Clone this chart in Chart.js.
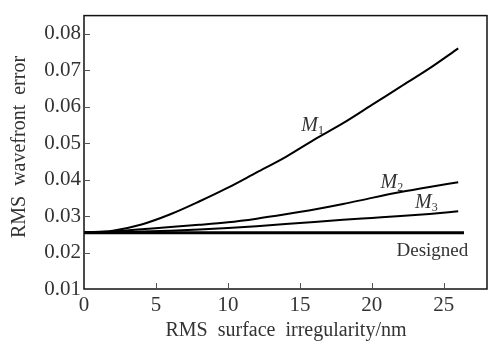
<!DOCTYPE html>
<html>
<head>
<meta charset="utf-8">
<script src="https://cdn.jsdelivr.net/npm/chart.js@4.4.1/dist/chart.umd.min.js"></script>
<style>
  html, body { margin: 0; padding: 0; background: #fff; }
  #wrap { width: 493px; height: 342px; }
</style>
</head>
<body>
<div id="wrap"><canvas id="rmsChart"></canvas></div>
<script>
// surface irregularity (nm)
var xs = [0, 2, 4, 6, 8, 10, 12, 14, 16, 18, 20, 22, 24, 26];
var m1 = [0.0255, 0.0260, 0.0277, 0.0305, 0.0340, 0.0378, 0.0420, 0.0462, 0.0510, 0.0555, 0.0605, 0.0655, 0.0705, 0.0760];
var m2 = [0.0255, 0.0258, 0.0264, 0.0270, 0.0276, 0.0283, 0.0293, 0.0305, 0.0318, 0.0333, 0.0350, 0.0366, 0.0380, 0.0393];
var m3 = [0.0255, 0.0256, 0.0258, 0.0260, 0.0263, 0.0267, 0.0272, 0.0278, 0.0284, 0.0290, 0.0295, 0.0300, 0.0306, 0.0313];
var designedX = [0, 26.4];
var designed = [0.0254, 0.0254];

var xTicks = [0, 5, 10, 15, 20, 25];
var yTicks = [0.01, 0.02, 0.03, 0.04, 0.05, 0.06, 0.07, 0.08];

// curve labels, anchored in data units (baseline)
var curveLabels = [
    { main: 'M', sub: '1', x: 15.1, y: 0.0534 },
    { main: 'M', sub: '2', x: 20.6, y: 0.0377 },
    { main: 'M', sub: '3', x: 23.0, y: 0.0322 }
];

function pts(xv, yv) {
    return xv.map(function (x, i) { return { x: x, y: yv[i] }; });
}

var serif = '"Liberation Serif", "DejaVu Serif", serif';

var frame = {
    id: 'frame',
    afterDraw: function (chart) {
        var c = chart.ctx, a = chart.chartArea;
        var sx = chart.scales.x, sy = chart.scales.y;
        c.save();
        c.strokeStyle = '#111';
        c.lineWidth = 1.5;
        c.strokeRect(a.left, a.top, a.right - a.left, a.bottom - a.top);

        // inward ticks
        c.lineWidth = 1;
        c.strokeStyle = '#555';
        xTicks.forEach(function (v) {
            if (v === 0) return;
            var px = Math.round(sx.getPixelForValue(v)) + 0.5;
            c.beginPath(); c.moveTo(px, a.bottom); c.lineTo(px, a.bottom - 6); c.stroke();
        });
        yTicks.forEach(function (v) {
            if (v === 0.01) return;
            var py = Math.round(sy.getPixelForValue(v)) + 0.5;
            c.beginPath(); c.moveTo(a.left, py); c.lineTo(a.left + 6, py); c.stroke();
        });

        // curve labels
        c.fillStyle = '#333';
        c.textBaseline = 'alphabetic';
        curveLabels.forEach(function (l) {
            var px = sx.getPixelForValue(l.x), py = sy.getPixelForValue(l.y);
            c.font = 'italic 20px ' + serif;
            c.textAlign = 'left';
            c.fillText(l.main, px, py);
            var w = c.measureText(l.main).width;
            c.font = '12px ' + serif;
            c.fillText(l.sub, px + w, py + 3);
        });
        c.font = '19px ' + serif;
        c.textAlign = 'right';
        c.fillText('Designed', sx.getPixelForValue(26.7), sy.getPixelForValue(0.0191));

        // axis titles
        c.font = '20px ' + serif;
        c.textAlign = 'center';
        c.textBaseline = 'middle';
        c.fillText('RMS  surface  irregularity/nm', 286, 331);
        c.translate(20, 147);
        c.rotate(-Math.PI / 2);
        c.fillText('RMS  wavefront  error', 0, 0);
        c.restore();
    }
};

var ctx = document.getElementById('rmsChart').getContext('2d');
var myChart = new Chart(ctx, {
    type: 'line',
    data: {
        datasets: [{
            label: 'M1',
            data: pts(xs, m1),
            borderColor: '#000',
            borderWidth: 2,
            cubicInterpolationMode: 'monotone'
        }, {
            label: 'M2',
            data: pts(xs, m2),
            borderColor: '#000',
            borderWidth: 2,
            cubicInterpolationMode: 'monotone'
        }, {
            label: 'M3',
            data: pts(xs, m3),
            borderColor: '#000',
            borderWidth: 2,
            cubicInterpolationMode: 'monotone'
        }, {
            label: 'Designed',
            data: pts(designedX, designed),
            borderColor: '#000',
            borderWidth: 3
        }]
    },
    options: {
        responsive: true,
        maintainAspectRatio: false,
        animation: false,
        layout: { padding: { top: 8, right: 6, left: 0, bottom: 0 } },
        elements: { point: { radius: 0 } },
        plugins: {
            legend: { display: false },
            tooltip: { enabled: false }
        },
        scales: {
            x: {
                type: 'linear',
                min: 0,
                max: 28,
                afterBuildTicks: function (s) { s.ticks = xTicks.map(function (v) { return { value: v }; }); },
                afterFit: function (s) { s.height = 53; },
                grid: { display: false, drawTicks: false },
                border: { display: false },
                ticks: {
                    padding: 4,
                    color: '#333',
                    maxRotation: 0,
                    font: { family: serif, size: 21 }
                }
            },
            y: {
                min: 0.01,
                max: 0.085,
                afterBuildTicks: function (s) { s.ticks = yTicks.map(function (v) { return { value: v }; }); },
                afterFit: function (s) { s.width = 84; },
                grid: { display: false, drawTicks: false },
                border: { display: false },
                ticks: {
                    padding: 3,
                    color: '#333',
                    font: { family: serif, size: 21 },
                    callback: function (v) { return v.toFixed(2); }
                }
            }
        }
    },
    plugins: [frame]
});
</script>
</body>
</html>
